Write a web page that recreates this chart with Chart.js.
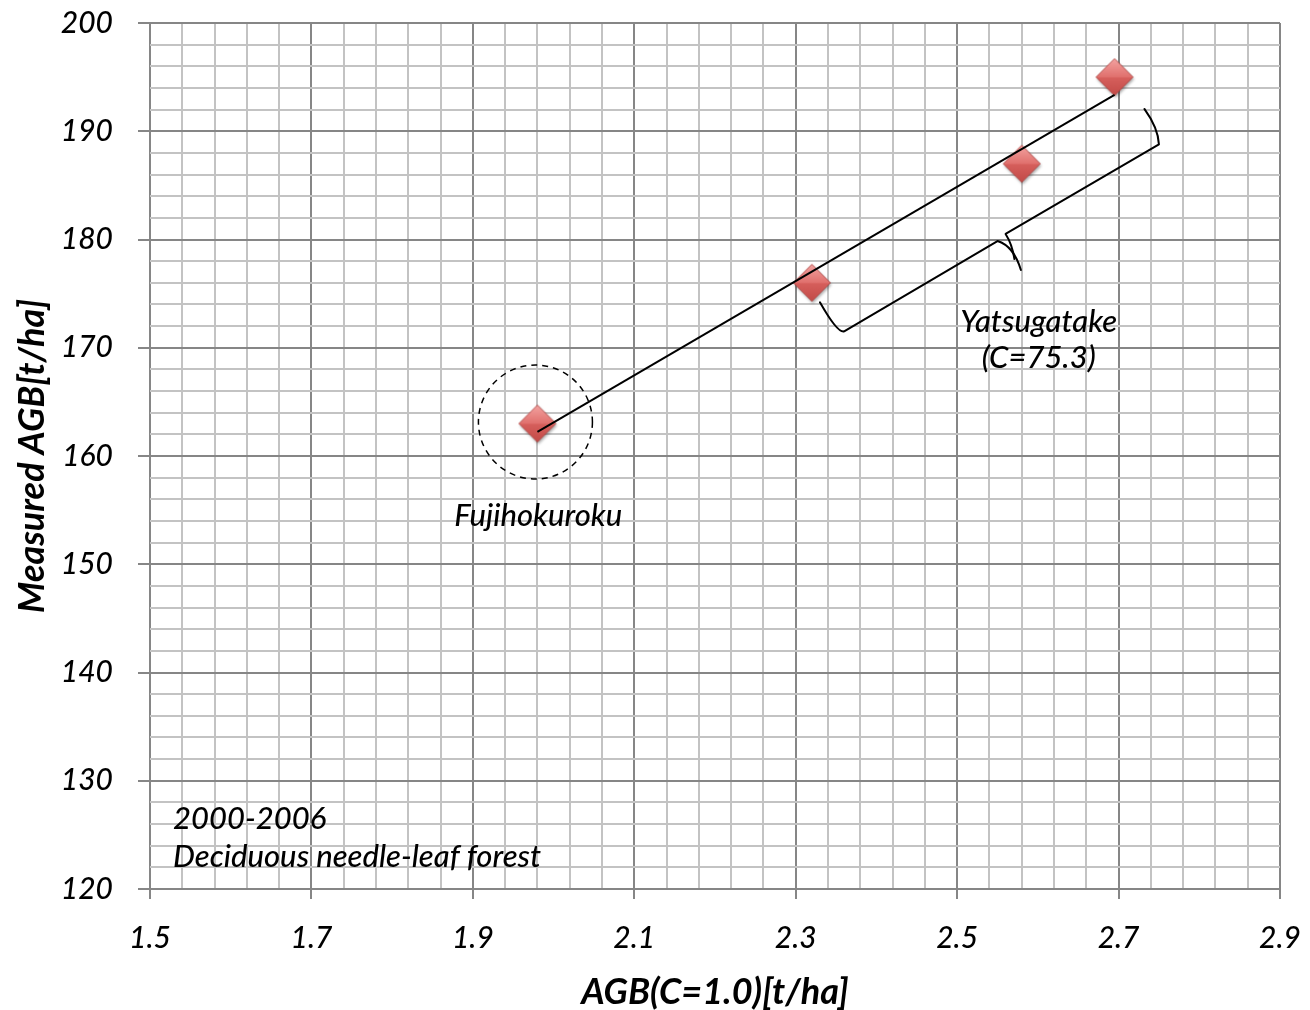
<!DOCTYPE html>
<html><head><meta charset="utf-8">
<script src="https://cdn.jsdelivr.net/npm/chart.js@4/dist/chart.umd.min.js"></script>
<style>html,body{margin:0;padding:0;background:#fff;}#wrap{width:1310px;height:1010px;}</style>
</head><body><div id="wrap"><canvas id="c" width="1310" height="1010"></canvas></div>
<script>
// ---- data ----
const xValues = [1.98, 2.32, 2.58, 2.695];
const yValues = [163, 176, 187, 195];
const xTickLabels = ['1.5','1.7','1.9','2.1','2.3','2.5','2.7','2.9'];
const yTickLabels = ['120','130','140','150','160','170','180','190','200'];
const xAxisTitle = 'AGB(C=1.0)[t/ha]';
const yAxisTitle = 'Measured AGB[t/ha]';
const noteLines = ['2000-2006', 'Deciduous needle-leaf forest'];
const siteNames = ['Fujihokuroku', 'Yatsugatake', '(C=75.3)'];

// ---- derived: least-squares trend line ----
const n = xValues.length;
const mx = xValues.reduce((a,b)=>a+b,0)/n, my = yValues.reduce((a,b)=>a+b,0)/n;
let sxy=0, sxx=0;
for (let i=0;i<n;i++){ sxy += (xValues[i]-mx)*(yValues[i]-my); sxx += (xValues[i]-mx)**2; }
const slope = sxy/sxx, intercept = my - slope*mx;
const xMin = Math.min(...xValues), xMax = Math.max(...xValues);
const trend = [{x:xMin, y:intercept+slope*xMin}, {x:xMax, y:intercept+slope*xMax}];

const X0=1.5, X1=2.9, XSTEP=0.04, XMAJ=0.2;
const Y0=120, Y1=200, YSTEP=2, YMAJ=10;
const isMajX = v => Math.abs((v-X0)/XMAJ - Math.round((v-X0)/XMAJ)) < 1e-6;
const isMajY = v => Math.abs((v-Y0)/YMAJ - Math.round((v-Y0)/YMAJ)) < 1e-6;

// diamond marker image
function makeDiamond(){
  const c = document.createElement('canvas'); c.width=48; c.height=48;
  const g = c.getContext('2d'); const cx=24, cy=24, r=18.5;
  g.save();
  g.shadowColor='rgba(0,0,0,0.35)'; g.shadowBlur=3; g.shadowOffsetX=1; g.shadowOffsetY=2;
  g.beginPath(); g.moveTo(cx,cy-r); g.lineTo(cx+r,cy); g.lineTo(cx,cy+r); g.lineTo(cx-r,cy); g.closePath();
  const gr = g.createLinearGradient(0,cy-r,0,cy+r);
  gr.addColorStop(0,'#f3a3a1'); gr.addColorStop(0.5,'#e0706d'); gr.addColorStop(0.52,'#d65f5c'); gr.addColorStop(1,'#c24a47');
  g.fillStyle=gr; g.fill();
  g.restore();
  g.beginPath(); g.moveTo(cx,cy-r); g.lineTo(cx+r,cy); g.lineTo(cx,cy+r); g.lineTo(cx-r,cy); g.closePath();
  g.strokeStyle='rgba(170,60,57,0.8)'; g.lineWidth=1; g.stroke();
  return c;
}
const diamond = makeDiamond();

const annot = {
  id:'annot',
  afterDatasetsDraw(chart){
    const ctx = chart.ctx, xs = chart.scales.x, ys = chart.scales.y;
    const P = (x,y)=>[xs.getPixelForValue(x), ys.getPixelForValue(y)];
    ctx.save();
    // dashed circle round first site
    const [cx,cy] = P(xValues[0], yValues[0]);
    ctx.beginPath(); ctx.setLineDash([6,5]); ctx.lineWidth=1.5; ctx.strokeStyle='#000';
    ctx.arc(cx-2, cy-1.5, 57, 0, Math.PI*2); ctx.stroke(); ctx.setLineDash([]);
    // brace
    ctx.lineWidth=2; ctx.strokeStyle='#000'; ctx.lineJoin='round'; ctx.lineCap='round';
    const A=P(2.330,174.20), B=P(2.360,171.52), C=P(2.550,179.86), T=P(2.579,177.18),
          Cc=P(2.570,179.4), D=P(2.560,180.51), Dc=P(2.568,179.6), M=P(2.571,178.2),
          E=P(2.750,188.79), Ec=P(2.749,190.3), F=P(2.732,192.06), Bc=P(2.352,171.3);
    ctx.beginPath(); ctx.moveTo(A[0],A[1]); ctx.quadraticCurveTo(Bc[0],Bc[1],B[0],B[1]);
    ctx.lineTo(C[0],C[1]); ctx.quadraticCurveTo(Cc[0],Cc[1],T[0],T[1]); ctx.stroke();
    ctx.beginPath(); ctx.moveTo(M[0],M[1]); ctx.quadraticCurveTo(Dc[0],Dc[1],D[0],D[1]);
    ctx.lineTo(E[0],E[1]); ctx.quadraticCurveTo(Ec[0],Ec[1],F[0],F[1]); ctx.stroke();
    // texts
    ctx.fillStyle='#000'; ctx.font='italic 500 31px Lato'; ctx.textBaseline='middle';
    ctx.textAlign='center';
    let p=P(1.981,154.46); ctx.fillText(siteNames[0], p[0], p[1]);
    p=P(2.601,172.38); ctx.fillText(siteNames[1], p[0], p[1]);
    p=P(2.601,169.05); ctx.fillText(siteNames[2], p[0], p[1]);
    ctx.textAlign='left';
    p=P(1.5285,126.47); ctx.fillText(noteLines[0], p[0], p[1]);
    p=P(1.5285,122.96); ctx.fillText(noteLines[1], p[0], p[1]);
    ctx.restore();
  }
};

const tickFont = {family:'Lato', style:'italic', weight:500, size:30, lineHeight:1.2};
const titleFont = {family:'Lato', style:'italic', weight:'bold', size:36, lineHeight:1.0};
const noPad = s => { s.paddingTop = 0; s.paddingBottom = 0; s.paddingLeft = 0; s.paddingRight = 0; };

new Chart(document.getElementById('c'), {
  type:'scatter',
  data:{ datasets:[
    { type:'line', data:trend, borderColor:'#000', borderWidth:2, pointRadius:0, fill:false, tension:0 },
    { data: xValues.map((x,i)=>({x, y:yValues[i]})), pointStyle: diamond, pointRadius:19, pointHoverRadius:19 }
  ]},
  options:{
    responsive:false, animation:false, devicePixelRatio:1,
    layout:{padding:{left:0, top:23, right:30, bottom:0}},
    plugins:{legend:{display:false}, tooltip:{enabled:false}},
    scales:{
      x:{ type:'linear', min:X0, max:X1,
        afterFit: s => { s.height = 121; noPad(s); },
        afterBuildTicks: s => { const t=[]; const k=Math.round((X1-X0)/XSTEP); for(let i=0;i<=k;i++) t.push({value: Math.round((X0+i*XSTEP)*1000)/1000}); s.ticks=t; },
        ticks:{ autoSkip:false, maxRotation:0, padding:21, color:'#000', font:tickFont,
          callback: v => isMajX(v) ? xTickLabels[Math.round((v-X0)/XMAJ)] : '' },
        grid:{ lineWidth:2, tickLength:10,
          color: c => (c.tick && isMajX(c.tick.value)) ? '#868686' : '#c3c3c3',
          tickColor: c => (c.tick && isMajX(c.tick.value)) ? '#868686' : 'rgba(0,0,0,0)' },
        border:{display:false},
        title:{ display:true, text:xAxisTitle, color:'#000', font:titleFont, padding:{top:0,bottom:0} }
      },
      y:{ type:'linear', min:Y0, max:Y1,
        afterFit: s => { s.width = 150; noPad(s); },
        afterBuildTicks: s => { const t=[]; const k=Math.round((Y1-Y0)/YSTEP); for(let i=0;i<=k;i++) t.push({value: Y0+i*YSTEP}); s.ticks=t; },
        ticks:{ autoSkip:false, padding:25, color:'#000', font:tickFont,
          callback: v => isMajY(v) ? yTickLabels[Math.round((v-Y0)/YMAJ)] : '' },
        grid:{ lineWidth:2, tickLength:12,
          color: c => (c.tick && isMajY(c.tick.value)) ? '#868686' : '#c3c3c3',
          tickColor: c => (c.tick && isMajY(c.tick.value)) ? '#868686' : 'rgba(0,0,0,0)' },
        border:{display:false},
        title:{ display:true, text:yAxisTitle, color:'#000', font:titleFont, padding:{top:14,bottom:0} }
      }
    }
  },
  plugins:[annot]
});
</script></body></html>
